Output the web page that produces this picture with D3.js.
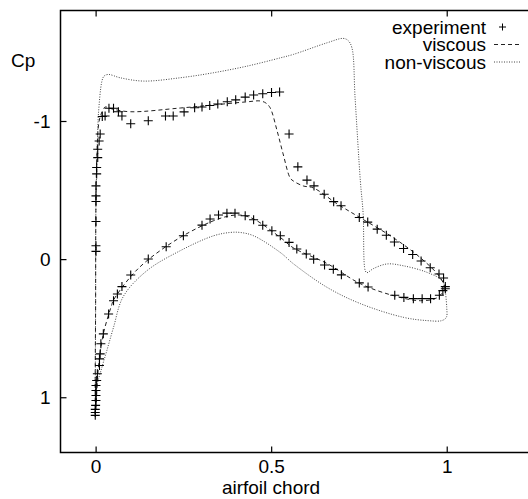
<!DOCTYPE html>
<html>
<head>
<meta charset="utf-8">
<script src="https://cdn.jsdelivr.net/npm/d3@7"></script>
<style>
  body { margin: 0; background: #fff; }
  svg { display: block; font-family: "Liberation Sans", Arial, sans-serif; }
</style>
</head>
<body>
<div id="chart"></div>
<script>
// chord position / pressure coefficient
var xTicks = [0, 0.5, 1];
var yTicks = [-1, 0, 1];
var seriesNames = ["experiment", "viscous", "non-viscous"];

// viscous solution: upper surface from leading edge to trailing edge
var viscousUpper = [
  [0, 1.095], [0, 0.3], [0.001, -0.42], [0.004, -0.78], [0.01, -1.0], [0.019, -1.07],
  [0.027, -1.101], [0.047, -1.087], [0.098, -1.067], [0.241, -1.094], [0.335, -1.116],
  [0.432, -1.139], [0.469, -1.145], [0.485, -1.13], [0.497, -1.096], [0.517, -0.928],
  [0.534, -0.762], [0.554, -0.588], [0.563, -0.566], [0.591, -0.53], [0.62, -0.516],
  [0.688, -0.4], [0.754, -0.299], [0.848, -0.155], [0.925, -0.01], [0.982, 0.134], [0.996, 0.214]
];
// viscous solution: lower surface from leading edge to trailing edge
var viscousLower = [
  [0, 1.095], [0.008, 0.782], [0.022, 0.541], [0.046, 0.33], [0.05, 0.301], [0.098, 0.132],
  [0.146, 0.012], [0.241, -0.157], [0.335, -0.277], [0.383, -0.314], [0.412, -0.319],
  [0.449, -0.292], [0.526, -0.157], [0.563, -0.082], [0.66, 0.033], [0.754, 0.178],
  [0.848, 0.264], [0.925, 0.301], [0.973, 0.279], [0.996, 0.214]
];
// non-viscous solution
var inviscidUpper = [
  [0, 1.095], [0, 0.3], [0.001, -0.42], [0.003, -0.639], [0.006, -0.928], [0.008, -1.05],
  [0.018, -1.289], [0.024, -1.325], [0.036, -1.337], [0.07, -1.313], [0.136, -1.289],
  [0.241, -1.313], [0.335, -1.349], [0.431, -1.397], [0.526, -1.457], [0.563, -1.482],
  [0.659, -1.566], [0.705, -1.598], [0.719, -1.583], [0.73, -1.53], [0.739, -1.168],
  [0.754, -0.566], [0.762, -0.328], [0.768, 0.084], [0.773, 0.098], [0.791, 0.069],
  [0.83, 0.035], [0.876, 0.048], [0.944, 0.096], [0.987, 0.156], [0.996, 0.228]
];
var inviscidLower = [
  [0, 1.095], [0.003, 0.927], [0.018, 0.783], [0.032, 0.662], [0.051, 0.494], [0.079, 0.27],
  [0.146, 0.084], [0.241, -0.061], [0.336, -0.169], [0.383, -0.193], [0.412, -0.193],
  [0.45, -0.169], [0.526, -0.048], [0.564, 0.035], [0.659, 0.204], [0.754, 0.322],
  [0.876, 0.421], [0.944, 0.445], [0.986, 0.445], [0.999, 0.421], [1.0, 0.349], [0.996, 0.228]
];
// measured Cp
var experiment = [
  [0.001, -0.056], [0.001, -0.097], [0.001, -0.272], [0.001, -0.417], [0.001, -0.458],
  [0.001, -0.53], [0.003, -0.617], [0.003, -0.663], [0.006, -0.735], [0.006, -0.796],
  [0.01, -0.855], [0.013, -0.906], [0.019, -1.033], [0.027, -1.036], [0.038, -1.092],
  [0.051, -1.092], [0.065, -1.067], [0.075, -1.036], [0.1, -0.98], [0.15, -1.002],
  [0.199, -1.036], [0.221, -1.036], [0.252, -1.066], [0.282, -1.096], [0.303, -1.101],
  [0.325, -1.112], [0.348, -1.123], [0.375, -1.139], [0.399, -1.153], [0.426, -1.173],
  [0.45, -1.188], [0.476, -1.197], [0.501, -1.206], [0.524, -1.21], [0.551, -0.906],
  [0.576, -0.668], [0.602, -0.572], [0.622, -0.53], [0.651, -0.47], [0.678, -0.416],
  [0.699, -0.386], [0.751, -0.301], [0.775, -0.268], [0.802, -0.217], [0.828, -0.173],
  [0.851, -0.124], [0.877, -0.077], [0.903, -0.033], [0.927, 0.014], [0.953, 0.062],
  [0.978, 0.108], [0.991, 0.137], [0.996, 0.199], [0.996, 0.214],
  [-0.001, 1.131], [-0.001, 1.11], [-0.001, 1.088], [0, 1.059], [0.001, 1.023],
  [0.001, 0.987], [0.001, 0.951], [0.001, 0.915], [0.003, 0.879], [0.005, 0.83],
  [0.011, 0.77], [0.011, 0.722], [0.013, 0.686], [0.015, 0.613], [0.022, 0.541],
  [0.037, 0.397], [0.051, 0.301], [0.062, 0.252], [0.075, 0.199], [0.1, 0.115],
  [0.15, -0.001], [0.201, -0.09], [0.25, -0.169], [0.303, -0.246], [0.326, -0.29],
  [0.35, -0.319], [0.374, -0.333], [0.397, -0.333], [0.426, -0.314], [0.45, -0.285],
  [0.476, -0.245], [0.502, -0.205], [0.526, -0.169], [0.551, -0.121], [0.573, -0.073],
  [0.6, -0.037], [0.621, 0.0], [0.652, 0.042], [0.677, 0.074], [0.7, 0.114],
  [0.751, 0.172], [0.776, 0.202], [0.852, 0.261], [0.878, 0.277], [0.905, 0.286],
  [0.93, 0.286], [0.954, 0.286], [0.979, 0.261], [0.989, 0.228]
];

var width = 528,
    height = 499,
    fontSize = 19;

var svg = d3.select("#chart").append("svg")
    .attr("width", width)
    .attr("height", height);

var x = d3.scaleLinear().domain([-0.1, 1.25]).range([60.5, 534.5]);
var y = d3.scaleLinear().domain([-1.8, 1.4]).range([10.5, 452.5]);

// curves: upper surface reversed (TE -> LE) then lower surface (LE -> TE)
var line = d3.line()
    .x(function (d) { return x(d[0]); })
    .y(function (d) { return y(d[1]); })
    .curve(d3.curveCatmullRom.alpha(0.5));

svg.append("path")
    .datum(inviscidUpper.slice().reverse().concat(inviscidLower.slice(1)))
    .attr("fill", "none")
    .attr("stroke", "#444")
    .attr("stroke-width", 1)
    .attr("stroke-dasharray", "1,1.5")
    .attr("d", line);

svg.append("path")
    .datum(viscousUpper.slice().reverse().concat(viscousLower.slice(1)))
    .attr("fill", "none")
    .attr("stroke", "#222")
    .attr("stroke-width", 1)
    .attr("stroke-dasharray", "4,3")
    .attr("d", line);

// experiment markers
svg.append("g")
    .selectAll("path")
    .data(experiment)
    .enter().append("path")
    .attr("transform", function (d) { return "translate(" + x(d[0]) + "," + y(d[1]) + ")"; })
    .attr("d", "M-4.5,0H4.5M0,-4.5V4.5")
    .attr("stroke", "#000")
    .attr("stroke-width", 1.1)
    .attr("fill", "none");

// frame
svg.append("rect")
    .attr("x", x(-0.1))
    .attr("y", y(-1.8))
    .attr("width", x(1.25) - x(-0.1))
    .attr("height", y(1.4) - y(-1.8))
    .attr("fill", "none")
    .attr("stroke", "#000")
    .attr("stroke-width", 1.5);

// axes, ticks pointing inward
var fmt = function (d) { return String(d); };

svg.append("g")
    .attr("transform", "translate(0," + y(1.4) + ")")
    .call(d3.axisBottom(x).tickValues(xTicks).tickSize(-6).tickPadding(7).tickFormat(fmt));

svg.append("g")
    .attr("transform", "translate(0," + y(-1.8) + ")")
    .call(d3.axisTop(x).tickValues(xTicks).tickSize(-6).tickFormat(""));

svg.append("g")
    .attr("transform", "translate(" + x(-0.1) + ",0)")
    .call(d3.axisLeft(y).tickValues(yTicks).tickSize(-6).tickPadding(10).tickFormat(fmt));

svg.selectAll(".domain").remove();
svg.selectAll(".tick line").attr("stroke", "#000").attr("stroke-width", 1.2);
svg.selectAll(".tick text")
    .attr("fill", "#000")
    .style("font-size", fontSize + "px")
    .style("font-family", "Liberation Sans, Arial, sans-serif");

// titles
svg.append("text")
    .attr("x", 11)
    .attr("y", 67)
    .style("font-size", fontSize + "px")
    .text("Cp");

svg.append("text")
    .attr("x", 271)
    .attr("y", 494)
    .attr("text-anchor", "middle")
    .style("font-size", fontSize + "px")
    .text("airfoil chord");

// legend
var legend = svg.append("g")
    .selectAll("g")
    .data(seriesNames)
    .enter().append("g")
    .attr("transform", function (d, i) { return "translate(486," + (27 + i * 17.5) + ")"; });

legend.append("text")
    .attr("text-anchor", "end")
    .attr("dy", "0.35em")
    .style("font-size", fontSize + "px")
    .text(function (d) { return d; });

legend.filter(function (d, i) { return i === 0; })
    .append("path")
    .attr("d", "M13,0H20M16.5,-3.5V3.5")
    .attr("stroke", "#000")
    .attr("stroke-width", 1);

legend.filter(function (d, i) { return i === 1; })
    .append("line")
    .attr("x1", 8).attr("x2", 35)
    .attr("stroke", "#222")
    .attr("stroke-dasharray", "4,3");

legend.filter(function (d, i) { return i === 2; })
    .append("line")
    .attr("x1", 8).attr("x2", 35)
    .attr("stroke", "#444")
    .attr("stroke-dasharray", "1,1.5");
</script>
</body>
</html>
